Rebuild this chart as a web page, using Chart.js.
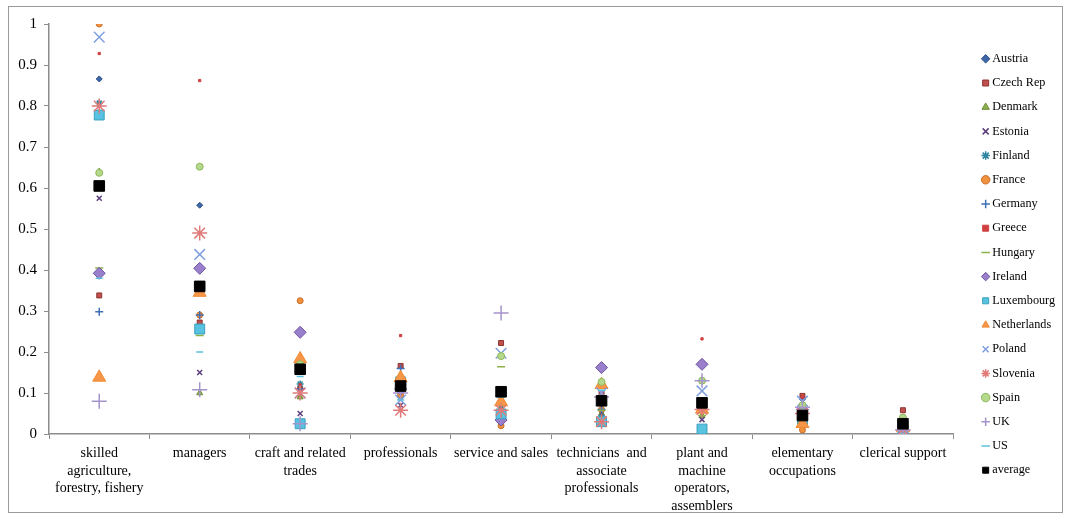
<!DOCTYPE html>
<html><head><meta charset="utf-8">
<script src="https://cdn.jsdelivr.net/npm/chart.js@4/dist/chart.umd.min.js"></script>
<style>html,body{margin:0;padding:0;background:#fff}#wrap{width:1065px;height:515px}</style>
</head><body><div id="wrap"><canvas id="c" width="1065" height="515"></canvas></div>
<script>
const categories = [["skilled","agriculture,","forestry, fishery"],"managers",["craft and related","trades"],"professionals","service and sales",["technicians  and","associate","professionals"],["plant and","machine","operators,","assemblers"],["elementary","occupations"],"clerical support"];
const yTicks = [0,0.1,0.2,0.3,0.4,0.5,0.6,0.7,0.8,0.9,1];

const austria     = [0.866,0.558,0.110,0.100,0.060,0.090,0.060,0.085,0.020];
const czechRep    = [0.338,0.272,0.110,0.166,0.222,0.100,0.070,0.093,0.058];
const denmark     = [0.640,0.100,0.090,0.120,0.060,0.050,0.045,0.060,0.030];
const estonia     = [0.575,0.150,0.050,0.070,0.060,0.050,0.035,0.060,0.010];
const finland     = [0.807,0.260,0.122,0.090,0.070,0.040,0.058,0.070,0.015];
const france      = [1.000,0.290,0.325,0.095,0.020,0.060,0.060,0.010,0.005];
const germany     = [0.298,0.290,0.110,0.160,0.080,0.060,0.060,0.065,0.020];
const greece      = [0.928,0.862,0.120,0.240,0.080,0.090,0.232,0.090,0.045];
const hungary     = [0.405,0.240,0.160,0.140,0.164,0.058,0.045,0.050,0.030];
const ireland     = [0.392,0.404,0.248,0.110,0.034,0.162,0.170,0.060,0.010];
const luxembourg  = [0.778,0.256,0.025,0.127,0.049,0.030,0.012,0.030,0.010];
const netherlands = [0.138,0.345,0.183,0.137,0.078,0.120,0.060,0.025,0.015];
const poland      = [0.968,0.438,0.100,0.083,0.197,0.100,0.105,0.080,0.015];
const slovenia    = [0.800,0.490,0.100,0.058,0.058,0.030,0.060,0.050,0.010];
const spain       = [0.637,0.652,0.170,0.120,0.190,0.127,0.130,0.070,0.040];
const uk          = [0.080,0.108,0.025,0.100,0.295,0.090,0.130,0.065,0.010];
const us          = [0.380,0.200,0.140,0.083,0.090,0.107,0.075,0.055,0.015];
const average     = [0.605,0.360,0.158,0.117,0.103,0.081,0.076,0.045,0.025];

const seriesDefs = [
  ["Austria", austria, "rectRot", 3, "#3E67A8", "#2C4E86"],
  ["Czech Rep", czechRep, "rect", 3.5, "#C0504D", "#8E3431"],
  ["Denmark", denmark, "triangle", 3.5, "#8CAF4D", "#6E8F35"],
  ["Estonia", estonia, "crossRot", 3.5, "#6A4C8F", "#5B3F7E"],
  ["Finland", finland, "star", 3.5, "#3C9DB8", "#2F86A0"],
  ["France", france, "circle", 3, "#F0913E", "#C8702A"],
  ["Germany", germany, "cross", 4, "#3F6FB5", "#3F6FB5"],
  ["Greece", greece, "rect", 1.6, "#D04040", "#D04040"],
  ["Hungary", hungary, "line", 4, "#8CB24A", "#8CB24A"],
  ["Ireland", ireland, "rectRot", 6, "#9A7FCC", "#6E55A0"],
  ["Luxembourg", luxembourg, "rect", 7, "#57C3E0", "#3AA0BE"],
  ["Netherlands", netherlands, "triangle", 7.5, "#F79646", "#F08A35"],
  ["Poland", poland, "crossRot", 7.5, "#7F9FDC", "#7F9FDC"],
  ["Slovenia", slovenia, "star", 7.5, "#E07A78", "#E07A78"],
  ["Spain", spain, "circle", 3.5, "#B5D98A", "#8EB85E"],
  ["UK", uk, "cross", 7.5, "#A593CC", "#A593CC"],
  ["US", us, "line", 3.5, "#5BC0DE", "#5BC0DE"],
  ["average", average, "rect", 7.5, "#000000", "#000000"]
];

const datasets = seriesDefs.map((s, i) => ({
  label: s[0], data: s[1], showLine: false,
  pointStyle: s[2], pointRadius: s[3], pointHoverRadius: s[3],
  backgroundColor: s[4], borderColor: s[5],
  pointBorderWidth: (s[2]==="line"||s[2]==="cross"||s[2]==="crossRot"||s[2]==="star") ? 1.5 : 1,
  order: seriesDefs.length - i
}));

const frame = {
  id: 'frame',
  beforeDraw(chart) {
    const ctx = chart.ctx;
    ctx.save();
    ctx.fillStyle = '#fff';
    ctx.fillRect(0, 0, chart.width, chart.height);
    ctx.strokeStyle = '#9a9a9a';
    ctx.lineWidth = 1;
    ctx.strokeRect(8.5, 6.5, 1054, 506);
    ctx.restore();
  }
};

new Chart(document.getElementById('c'), {
  type: 'line',
  data: { labels: categories, datasets },
  plugins: [frame],
  options: {
    responsive: false, animation: false,
    layout: { padding: { top: 24, left: 0, right: 0, bottom: 0 } },
    plugins: {
      tooltip: { enabled: false },
      legend: {
        position: 'right', align: 'start',
        title: { display: true, text: ' ', font: { size: 1 }, padding: { top: 15.5, bottom: 0 } },
        labels: {
          usePointStyle: true, boxWidth: 1, boxHeight: 6, padding: 12,
          color: '#000', font: { family: 'Liberation Serif', size: 12.2 },
          sort: (a, b) => a.datasetIndex - b.datasetIndex
        }
      }
    },
    scales: {
      x: {
        offset: true,
        grid: { offset: true, drawOnChartArea: false, drawTicks: true, tickLength: 5, color: '#8c8c8c' },
        border: { color: '#8c8c8c', width: 1.5 },
        ticks: { color: '#000', font: { family: 'Liberation Serif', size: 14, lineHeight: 1.25 }, maxRotation: 0, autoSkip: false, padding: 6 },
        afterFit(scale) { scale.height = 81; }
      },
      y: {
        min: 0, max: 1,
        afterBuildTicks(scale) { scale.ticks = yTicks.map(v => ({ value: v })); },
        grid: { drawOnChartArea: false, drawTicks: true, tickLength: 5, color: '#8c8c8c' },
        border: { color: '#8c8c8c', width: 1.5 },
        ticks: { color: '#000', font: { family: 'Liberation Serif', size: 15 }, padding: 7, callback: v => String(+v.toFixed(1)) },
        afterFit(scale) { scale.width = 49; }
      },
      gap: {
        type: 'linear', position: 'right', display: true,
        grid: { display: false }, border: { display: false }, ticks: { display: false },
        afterFit(scale) { scale.width = 20; }
      }
    }
  }
});
</script></body></html>
